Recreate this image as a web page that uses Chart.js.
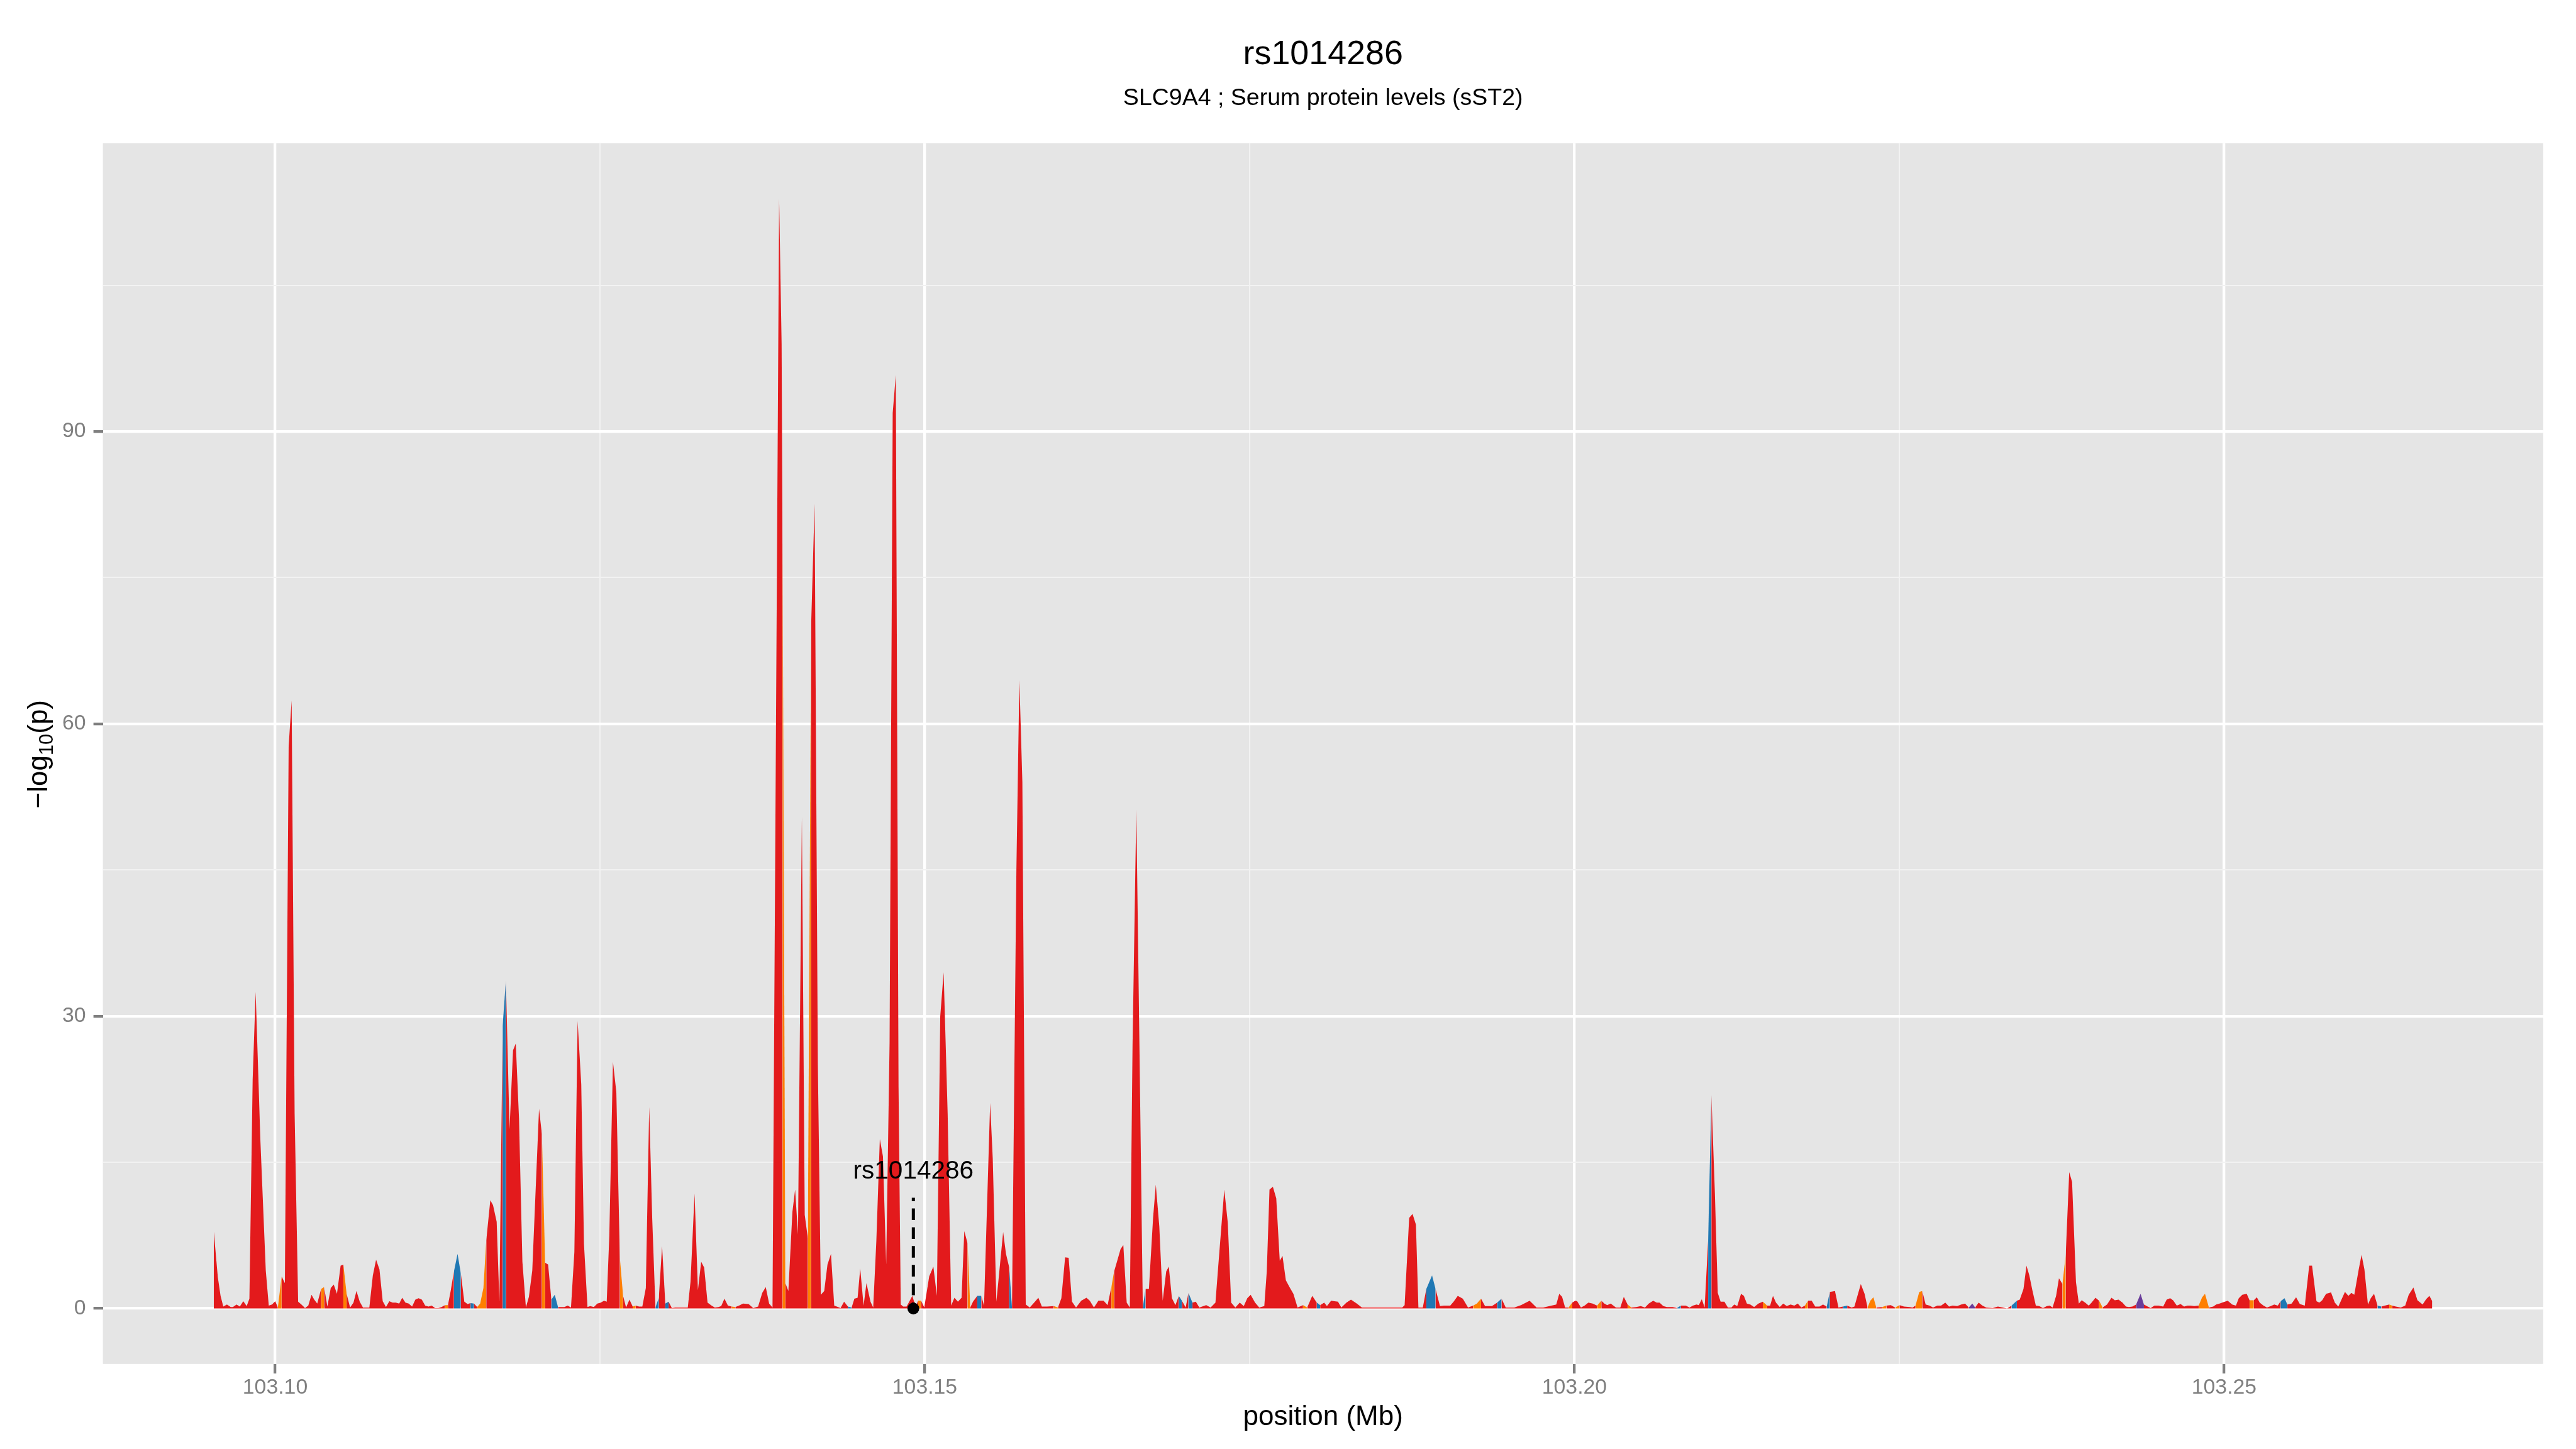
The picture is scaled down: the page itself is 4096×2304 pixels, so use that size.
<!DOCTYPE html>
<html>
<head>
<meta charset="utf-8">
<script src="https://cdn.jsdelivr.net/npm/chart.js@4.4.1/dist/chart.umd.min.js"></script>
<style>
html,body{margin:0;padding:0;background:#fff;overflow:hidden;}
canvas{display:block;}
</style>
</head>
<body>
<canvas id="c" width="4096" height="2304"></canvas>
<script>
// ---------------- data ----------------
const titleText = 'rs1014286';
const subtitleText = 'SLC9A4 ; Serum protein levels (sST2)';
const xAxisTitle = 'position (Mb)';
const yAxisTitleParts = ['\u2212log', '10', '(p)'];
const leadSnpName = 'rs1014286';
const leadSnpPositionMb = 103.14912;
const leadSnpLineTop = 11.37;
const leadSnpLabelY = 13.3;

const positionMb = [
103.09528,103.09559,103.09580,103.09601,103.09629,103.09658,103.09675,103.09703,103.09728,103.09755,
103.09781,103.09802,103.09827,103.09850,103.09886,103.09928,103.09951,103.09976,103.10001,103.10021,
103.10050,103.10075,103.10104,103.10127,103.10150,103.10177,103.10202,103.10230,103.10255,103.10280,
103.10301,103.10324,103.10354,103.10377,103.10402,103.10428,103.10451,103.10476,103.10504,103.10525,
103.10550,103.10577,103.10603,103.10626,103.10651,103.10676,103.10725,103.10752,103.10777,103.10803,
103.10828,103.10853,103.10879,103.10904,103.10929,103.10955,103.10978,103.11003,103.11028,103.11054,
103.11079,103.11104,103.11129,103.11155,103.11180,103.11205,103.11231,103.11256,103.11281,103.11307,
103.11330,103.11351,103.11376,103.11404,103.11429,103.11456,103.11481,103.11504,103.11530,103.11555,
103.11578,103.11603,103.11625,103.11656,103.11677,103.11705,103.11726,103.11751,103.11776,103.11804,
103.11831,103.11852,103.11877,103.11903,103.11930,103.11953,103.11979,103.12031,103.12053,103.12078,
103.12101,103.12126,103.12152,103.12177,103.12201,103.12226,103.12252,103.12277,103.12303,103.12328,
103.12356,103.12377,103.12404,103.12425,103.12453,103.12480,103.12506,103.12531,103.12552,103.12572,
103.12600,103.12626,103.12653,103.12678,103.12701,103.12727,103.12752,103.12775,103.12801,103.12826,
103.12853,103.12879,103.12902,103.12927,103.12953,103.12978,103.13003,103.13028,103.13053,103.13079,
103.13127,103.13176,103.13197,103.13228,103.13254,103.13279,103.13302,103.13328,103.13359,103.13384,
103.13412,103.13433,103.13458,103.13485,103.13513,103.13542,103.13570,103.13601,103.13644,103.13679,
103.13717,103.13749,103.13776,103.13802,103.13828,103.13879,103.13898,103.13905,103.13927,103.13950,
103.13981,103.14002,103.14024,103.14054,103.14076,103.14100,103.14125,103.14152,103.14177,103.14200,
103.14226,103.14251,103.14278,103.14303,103.14352,103.14379,103.14408,103.14437,103.14458,103.14483,
103.14503,103.14529,103.14551,103.14582,103.14603,103.14627,103.14654,103.14678,103.14703,103.14729,
103.14753,103.14777,103.14798,103.14815,103.14834,103.14860,103.14904,103.14929,103.14949,103.14972,
103.14996,103.15034,103.15066,103.15093,103.15119,103.15145,103.15176,103.15203,103.15228,103.15255,
103.15283,103.15304,103.15329,103.15350,103.15371,103.15404,103.15435,103.15456,103.15503,103.15523,
103.15551,103.15603,103.15625,103.15650,103.15671,103.15705,103.15728,103.15751,103.15777,103.15808,
103.15848,103.15874,103.15901,103.15941,103.15993,103.16025,103.16051,103.16080,103.16107,103.16133,
103.16164,103.16204,103.16244,103.16270,103.16302,103.16336,103.16376,103.16407,103.16436,103.16457,
103.16481,103.16507,103.16528,103.16554,103.16578,103.16599,103.16628,103.16652,103.16678,103.16699,
103.16725,103.16757,103.16778,103.16805,103.16831,103.16858,103.16878,103.16902,103.16929,103.16955,
103.16979,103.17008,103.17029,103.17060,103.17086,103.17113,103.17166,103.17200,103.17237,103.17258,
103.17305,103.17332,103.17358,103.17390,103.17424,103.17455,103.17482,103.17508,103.17542,103.17574,
103.17613,103.17632,103.17653,103.17679,103.17705,103.17732,103.17753,103.17779,103.17811,103.17837,
103.17869,103.17911,103.17943,103.17982,103.18017,103.18043,103.18074,103.18095,103.18127,103.18180,
103.18206,103.18245,103.18280,103.18325,103.18364,103.18675,103.18693,103.18728,103.18754,103.18780,
103.18799,103.18833,103.18860,103.18904,103.18931,103.18965,103.18996,103.19044,103.19070,103.19102,
103.19141,103.19181,103.19220,103.19249,103.19281,103.19312,103.19365,103.19405,103.19439,103.19471,
103.19537,103.19589,103.19655,103.19708,103.19760,103.19839,103.19860,103.19883,103.19905,103.19928,
103.19955,103.19983,103.20006,103.20021,103.20050,103.20078,103.20107,103.20140,103.20174,103.20207,
103.20230,103.20252,103.20279,103.20319,103.20353,103.20380,103.20409,103.20438,103.20476,103.20510,
103.20543,103.20572,103.20606,103.20633,103.20655,103.20684,103.20711,103.20756,103.20789,103.20819,
103.20857,103.20886,103.20912,103.20939,103.20957,103.20980,103.21002,103.21029,103.21054,103.21081,
103.21103,103.21125,103.21154,103.21181,103.21208,103.21230,103.21253,103.21282,103.21304,103.21327,
103.21353,103.21383,103.21416,103.21450,103.21483,103.21506,103.21528,103.21551,103.21580,103.21607,
103.21634,103.21663,103.21692,103.21719,103.21746,103.21774,103.21797,103.21826,103.21853,103.21886,
103.21913,103.21942,103.21965,103.21987,103.22005,103.22032,103.22066,103.22099,103.22133,103.22155,
103.22178,103.22204,103.22233,103.22256,103.22277,103.22301,103.22323,103.22368,103.22401,103.22435,
103.22468,103.22502,103.22536,103.22580,103.22603,103.22625,103.22654,103.22677,103.22703,103.22733,
103.22760,103.22793,103.22822,103.22854,103.22883,103.22910,103.22946,103.22977,103.23006,103.23035,
103.23062,103.23084,103.23111,103.23140,103.23169,103.23219,103.23259,103.23297,103.23330,103.23364,
103.23405,103.23427,103.23456,103.23479,103.23501,103.23524,103.23551,103.23577,103.23606,103.23636,
103.23658,103.23680,103.23707,103.23729,103.23756,103.23781,103.23808,103.23830,103.23860,103.23882,
103.23904,103.23931,103.23958,103.23980,103.24010,103.24038,103.24065,103.24099,103.24133,103.24159,
103.24188,103.24218,103.24245,103.24267,103.24294,103.24323,103.24357,103.24383,103.24412,103.24435,
103.24464,103.24495,103.24531,103.24558,103.24585,103.24607,103.24636,103.24665,103.24692,103.24719,
103.24741,103.24770,103.24804,103.24831,103.24853,103.24883,103.24916,103.24939,103.24965,103.24995,
103.25028,103.25062,103.25091,103.25113,103.25140,103.25174,103.25196,103.25229,103.25252,103.25274,
103.25303,103.25330,103.25359,103.25386,103.25413,103.25435,103.25465,103.25487,103.25520,103.25554,
103.25583,103.25621,103.25655,103.25677,103.25711,103.25733,103.25755,103.25785,103.25823,103.25852,
103.25879,103.25901,103.25930,103.25957,103.25979,103.26002,103.26036,103.26058,103.26080,103.26107,
103.26129,103.26154,103.26181,103.26210,103.26237,103.26271,103.26293,103.26322,103.26360,103.26394,
103.26421,103.26457,103.26488,103.26528,103.26555,103.26580,103.26602
];

const logP = [
7.9,3.2,1.3,0.2,0.4,0.15,0.15,0.4,0.2,0.75,
0.25,1.0,23.5,32.5,17.4,3.9,0.3,0.4,0.75,0.1,
3.3,2.6,57.7,62.4,20,0.7,0.4,0.05,0.3,1.4,
0.9,0.5,2.0,2.2,0.2,2.1,2.45,1.5,4.4,4.5,
1.5,0.1,0.6,1.8,0.7,0.1,0.1,3.4,5.0,4.0,
0.75,0.15,0.75,0.6,0.6,0.5,1.1,0.6,0.5,0.2,
0.9,1.05,0.9,0.3,0.2,0.3,0.05,0.05,0.15,0.35,
0.35,1.8,3.8,5.6,3.6,0.7,0.45,0.55,0.5,0.15,
0.5,2.1,7.0,11.1,10.6,8.9,0.7,29,33.7,18.4,
26.5,27.2,19.5,4.8,0.1,1.2,3.9,20.5,17.9,4.7,
4.5,0.9,1.4,0.15,0.15,0.15,0.3,0.1,5.8,29.5,
23,6.6,0.15,0.25,0.15,0.5,0.6,0.8,0.7,7.5,
25.3,22.2,5.2,1.3,0.1,0.9,0.2,0.3,0.2,0.2,
2.1,20.7,9.3,0.1,1.1,6.4,0.5,0.7,0.05,0.1,
0.1,0.1,2.75,11.8,1.9,4.8,4.2,0.6,0.3,0.1,
0.15,0.25,1.0,0.3,0.2,0.15,0.3,0.5,0.45,0.05,
0.2,1.6,2.2,0.5,0.1,113.9,99,79,2.6,1.8,
9.9,12.2,7.6,50.5,9.6,7.2,70,82.6,25,1.4,
1.8,4.5,5.6,0.3,0.05,0.7,0.2,0.1,1.0,1.1,
4.1,0.3,2.6,0.7,0.1,6.9,17.4,15.6,4.5,27.3,
91.9,95.8,22.7,0.4,0.2,0.2,1.3,0.2,0.8,0.8,
0.1,3.3,4.3,1.3,30,34.5,20,0.3,1.1,0.7,
1.1,7.95,6.7,0.1,0.7,1.3,1.3,0.3,21.1,15.4,
0.7,7.85,5.6,4.2,0.1,45,64.5,54,0.4,0.1,
0.7,1.1,0.2,0.2,0.25,0.1,1.05,5.25,5.2,0.7,
0.1,0.8,1.1,0.8,0.1,0.8,0.8,0.35,2.2,3.8,
4.9,6.1,6.5,0.6,0.1,27.1,51.2,27,0.1,2.0,
2.0,9.3,12.7,8.4,0.8,3.8,4.3,1.05,0.35,1.3,
0.8,0.1,1.6,0.6,0.7,0.1,0.35,0.1,0.6,4.25,
12.2,8.8,0.6,0.1,0.6,0.25,1.05,1.4,0.6,0.1,
0.25,3.8,12.2,12.5,11.3,4.9,5.4,2.9,2.1,1.5,
0.1,0.35,0.1,1.3,0.6,0.35,0.6,0.25,0.8,0.7,
0.1,0.6,0.9,0.5,0.1,0.1,0.35,9.3,9.7,8.6,
0.1,0.1,2.0,3.4,2.0,0.25,0.3,0.3,0.7,1.3,
1.0,0.1,0.3,0.5,1.0,0.25,0.25,0.6,1.0,0.1,
0.1,0.35,0.8,0.1,0.1,0.35,0.4,1.5,1.2,0.1,
0.1,0.6,0.8,0.75,0.1,0.3,0.6,0.5,0.3,0.8,
0.5,0.35,0.5,0.1,0.1,1.2,0.4,0.1,0.15,0.25,
0.1,0.5,0.8,0.6,0.6,0.25,0.15,0.15,0.05,0.3,
0.3,0.1,0.3,0.4,0.35,0.95,0.1,7,21.9,11.8,
1.6,0.7,0.7,0.1,0.1,0.4,0.25,1.5,1.3,0.5,
0.4,0.15,0.5,0.7,0.3,0.3,1.3,0.6,0.15,0.5,
0.25,0.4,0.3,0.5,0.1,0.3,0.8,0.8,0.2,0.2,
0.4,0.2,1.7,1.75,1.8,0.1,0.2,0.3,0.1,0.2,
1.3,2.5,1.5,0.1,0.8,1.15,0.1,0.15,0.3,0.35,
0.1,0.35,0.2,0.15,0.1,0.3,1.7,1.8,0.4,0.3,
0.1,0.3,0.3,0.6,0.2,0.3,0.25,0.4,0.5,0.1,
0.5,0.1,0.6,0.3,0.1,0.05,0.2,0.1,0.0,0.3,
0.8,0.9,2.0,4.4,3.4,1.9,0.3,0.25,0.05,0.25,
0.3,0.1,1.3,3.1,2.5,5.5,14.0,13.0,2.7,0.5,
0.85,0.6,0.3,0.6,1.1,0.8,0.1,0.4,1.1,0.85,
0.9,0.6,0.2,0.15,0.2,0.4,1.5,0.4,0.2,0.05,
0.3,0.3,0.2,0.9,1.05,0.85,0.3,0.45,0.2,0.3,
0.3,0.25,0.3,1.15,1.5,0.1,0.2,0.4,0.5,0.65,
0.8,0.4,0.3,1.05,1.4,1.5,0.85,0.85,1.15,0.6,
0.3,0.1,0.25,0.4,0.3,0.75,1.05,0.4,0.5,1.15,
0.45,0.3,4.4,4.4,0.75,0.6,0.85,1.5,1.65,0.6,
0.2,0.85,1.7,1.3,1.6,1.4,4.0,5.5,4.0,0.4,
1.05,1.5,0.3,0.2,0.3,0.4,0.3,0.2,0.1,0.3,
1.4,2.15,0.85,0.4,0.95,1.3,0.75
];

// SNPs whose LD class is not the default (red) class
const blueSnps = [103.11404,103.11429,103.11530,103.11776,103.12152,103.12177,103.12953,103.13028,
  103.14437,103.15435,103.15671,103.16699,103.16979,103.17060,103.18043,103.18904,103.18931,103.19439,
  103.20819,103.21054,103.21965,103.22099,103.23405,103.25465,103.25487,103.26210];
const orangeSnps = [103.10050,103.10377,103.10550,103.11330,103.11578,103.11603,103.11625,103.12078,
  103.12678,103.12775,103.13542,103.13927,103.14125,103.14972,103.15350,103.16025,103.16457,103.17943,
  103.19249,103.19281,103.19983,103.20207,103.20438,103.21483,103.21797,103.22277,103.22301,103.22323,
  103.22401,103.22502,103.22654,103.22677,103.23781,103.24065,103.24831,103.24853,103.24883,103.25229,103.26293];
const purpleSnps = [103.23062,103.23084,103.24357,103.24383];

const xMajorTicks = [103.10, 103.15, 103.20, 103.25];
const xMinorTicks = [103.125, 103.175, 103.225];
const yMajorTicks = [0, 30, 60, 90];
const yMinorTicks = [15, 45, 75, 105];

// ---------------- styling ----------------
const FAMILY = '"Liberation Sans", Arial, Helvetica, sans-serif';
const COLORS = { red: '#E31A1C', blue: '#1F78B4', orange: '#FF7F00', purple: '#6A3D9A' };
const W = 4096, H = 2304;
const AREA = { left: 163.6, top: 227.6, right: 4043.8, bottom: 2168.8 };

const key = v => v.toFixed(5);
const blueSet = new Set(blueSnps.map(key));
const orangeSet = new Set(orangeSnps.map(key));
const purpleSet = new Set(purpleSnps.map(key));
const pointColor = positionMb.map(p => {
  const k = key(p);
  if (blueSet.has(k)) return COLORS.blue;
  if (orangeSet.has(k)) return COLORS.orange;
  if (purpleSet.has(k)) return COLORS.purple;
  return COLORS.red;
});

// ggplot-style 5% expansion of the data range
const xLo = Math.min(...positionMb), xHi = Math.max(...positionMb);
const xPad = (xHi - xLo) * 0.05;
const yLo = Math.min(0, ...logP), yHi = Math.max(...logP);
const yPad = (yHi - yLo) * 0.05;

const xTicks = [...xMajorTicks, ...xMinorTicks].sort((a, b) => a - b);
const yTicks = [...yMajorTicks, ...yMinorTicks].sort((a, b) => a - b);
const isMajor = (arr, v) => arr.some(m => Math.abs(m - v) < 1e-9);

const bgPlugin = {
  id: 'ggBackground',
  beforeDraw(chart) {
    const { ctx, chartArea: a } = chart;
    ctx.save();
    ctx.fillStyle = '#FFFFFF';
    ctx.fillRect(0, 0, chart.width, chart.height);
    ctx.fillStyle = '#E5E5E5';
    ctx.fillRect(a.left, a.top, a.right - a.left, a.bottom - a.top);
    ctx.restore();
  }
};

const textPlugin = {
  id: 'ggText',
  afterDatasetsDraw(chart) {
    const { ctx, scales } = chart;
    ctx.save();
    ctx.fillStyle = '#000';
    ctx.font = '40.5px ' + FAMILY;
    ctx.textAlign = 'center';
    ctx.textBaseline = 'alphabetic';
    ctx.fillText(leadSnpName, scales.x.getPixelForValue(leadSnpPositionMb), scales.y.getPixelForValue(leadSnpLabelY));
    ctx.restore();
  },
  afterDraw(chart) {
    const { ctx, chartArea: a } = chart;
    const cx = (a.left + a.right) / 2;
    ctx.save();
    ctx.fillStyle = '#000';
    ctx.textAlign = 'center';
    ctx.textBaseline = 'alphabetic';
    ctx.font = '53.8px ' + FAMILY;
    ctx.fillText(titleText, cx, 101.8);
    ctx.font = '37.5px ' + FAMILY;
    ctx.fillText(subtitleText, cx, 167.3);
    ctx.font = '44px ' + FAMILY;
    ctx.fillText(xAxisTitle, cx, 2266.3);

    // rotated y title with subscript
    const big = '44px ' + FAMILY, small = '30.8px ' + FAMILY;
    ctx.font = big;
    const w1 = ctx.measureText(yAxisTitleParts[0]).width;
    const w3 = ctx.measureText(yAxisTitleParts[2]).width;
    ctx.font = small;
    const w2 = ctx.measureText(yAxisTitleParts[1]).width;
    ctx.translate(75, (a.top + a.bottom) / 2 + 1);
    ctx.rotate(-Math.PI / 2);
    ctx.textAlign = 'left';
    let x = -(w1 + w2 + w3) / 2;
    ctx.font = big; ctx.fillText(yAxisTitleParts[0], x, 0); x += w1;
    ctx.font = small; ctx.fillText(yAxisTitleParts[1], x, 9); x += w2;
    ctx.font = big; ctx.fillText(yAxisTitleParts[2], x, 0);
    ctx.restore();
  }
};

const gridFor = (majors) => ({
  display: true,
  drawOnChartArea: true,
  drawTicks: true,
  tickLength: 15,
  tickWidth: 4.3,
  color: c => (c.tick && isMajor(majors, c.tick.value)) ? '#FFFFFF' : '#F2F2F2',
  lineWidth: c => (c.tick && isMajor(majors, c.tick.value)) ? 4.3 : 2.1,
  tickColor: c => (c.tick && isMajor(majors, c.tick.value)) ? '#7F7F7F' : 'rgba(0,0,0,0)'
});

Chart.defaults.font.family = FAMILY;

new Chart(document.getElementById('c').getContext('2d'), {
  type: 'line',
  data: {
    datasets: [
      {
        label: 'lead SNP',
        data: [{ x: leadSnpPositionMb, y: 0 }],
        showLine: false,
        pointRadius: 9.4,
        pointHoverRadius: 9.4,
        pointBackgroundColor: '#000',
        pointBorderColor: '#000',
        pointBorderWidth: 0
      },
      {
        label: 'lead SNP marker',
        data: [{ x: leadSnpPositionMb, y: leadSnpLineTop }, { x: leadSnpPositionMb, y: 0 }],
        borderColor: '#000',
        borderWidth: 5,
        borderDash: [18.5, 11.4],
        borderDashOffset: 12.8,
        borderCapStyle: 'butt',
        pointRadius: 0,
        fill: false,
        tension: 0
      },
      {
        label: '-log10(p)',
        data: positionMb.map((p, i) => ({ x: p, y: logP[i] })),
        fill: 'origin',
        backgroundColor: COLORS.red,
        borderColor: 'rgba(0,0,0,0)',
        borderWidth: 0,
        pointRadius: 0,
        pointHoverRadius: 0,
        tension: 0,
        segment: {
          backgroundColor: c => pointColor[c.p1DataIndex]
        }
      }
    ]
  },
  options: {
    responsive: false,
    maintainAspectRatio: false,
    animation: false,
    devicePixelRatio: 1,
    events: [],
    layout: { padding: { left: 0, top: AREA.top, right: W - AREA.right, bottom: 0 } },
    plugins: {
      legend: { display: false },
      tooltip: { enabled: false },
      title: { display: false }
    },
    scales: {
      x: {
        type: 'linear',
        min: xLo - xPad,
        max: xHi + xPad,
        afterBuildTicks: s => { s.ticks = xTicks.map(v => ({ value: v })); },
        afterFit: s => { s.height = H - AREA.bottom; },
        border: { display: false },
        grid: gridFor(xMajorTicks),
        ticks: {
          autoSkip: false, maxRotation: 0, minRotation: 0,
          padding: 2.5,
          color: '#7F7F7F',
          font: { family: FAMILY, size: 33.8 },
          callback: v => isMajor(xMajorTicks, v) ? v.toFixed(2) : ''
        }
      },
      y: {
        type: 'linear',
        min: yLo - yPad,
        max: yHi + yPad,
        afterBuildTicks: s => { s.ticks = yTicks.map(v => ({ value: v })); },
        afterFit: s => { s.width = AREA.left; },
        border: { display: false },
        grid: gridFor(yMajorTicks),
        ticks: {
          autoSkip: false,
          padding: 12.1,
          color: '#7F7F7F',
          font: { family: FAMILY, size: 33.8 },
          callback: v => isMajor(yMajorTicks, v) ? String(v) : ''
        }
      }
    }
  },
  plugins: [bgPlugin, textPlugin]
});
</script>
</body>
</html>
